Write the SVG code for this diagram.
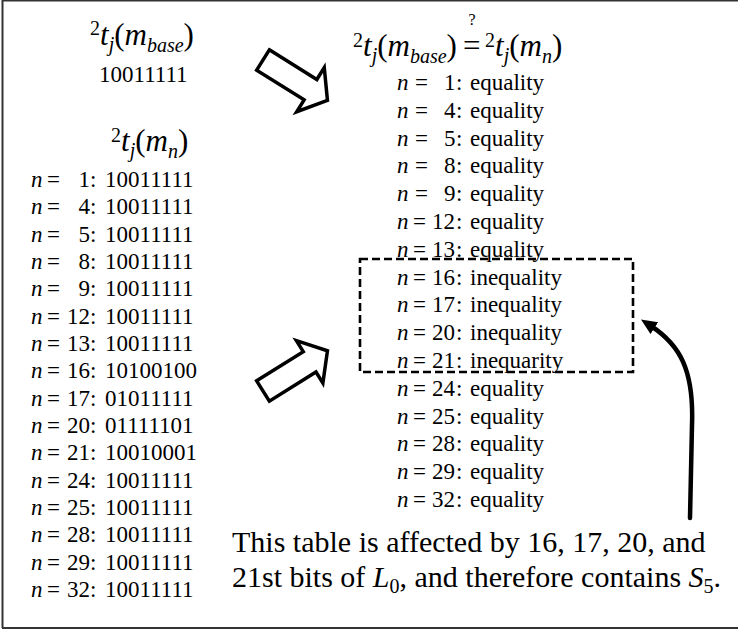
<svg xmlns="http://www.w3.org/2000/svg" width="738" height="631" viewBox="0 0 738 631">
<style>
text{font-family:"Liberation Serif","Times New Roman",serif;fill:#000}
.r{font-size:23px}
.h{font-size:31px}
.c{font-size:30px}
.i{font-style:italic}
.s{font-size:20px}
.blk{fill:#fff;stroke:#000;stroke-width:3.5;stroke-linejoin:miter}
</style>
<defs>
<marker id="ah" markerUnits="userSpaceOnUse" viewBox="0 0 16 14" refX="4" refY="7" markerWidth="16" markerHeight="14" orient="auto">
<path d="M0,0 L16,7 L0,14 Z" fill="#000"/>
</marker>
</defs>
<g id="frame" fill="none" stroke="#333" stroke-width="2">
<path d="M2.5,0.5 H738 M2.5,0 V628 M2,628 H738"/>
</g>

<g id="base-value">
<text class="h" y="45"><tspan x="90" y="35" class="s">2</tspan><tspan y="45" class="i">t</tspan><tspan y="51" class="i s">j</tspan><tspan y="45">(</tspan><tspan class="i">m</tspan><tspan y="52" class="i s">base</tspan><tspan y="45">)</tspan></text>
<text class="r" x="99" y="82">10011111</text>
</g>

<g id="left-table">
<text class="h" y="151"><tspan x="111" y="142" class="s">2</tspan><tspan y="151" class="i">t</tspan><tspan y="157" class="i s">j</tspan><tspan y="151">(</tspan><tspan class="i">m</tspan><tspan y="158" class="i s">n</tspan><tspan y="151">)</tspan></text>
<g class="r">
<text y="187"><tspan x="31" class="i">n</tspan><tspan x="47">=</tspan><tspan x="78.5">1</tspan><tspan x="90">:</tspan><tspan x="105">10011111</tspan></text>
<text y="214.3"><tspan x="31" class="i">n</tspan><tspan x="47">=</tspan><tspan x="78.5">4</tspan><tspan x="90">:</tspan><tspan x="105">10011111</tspan></text>
<text y="241.7"><tspan x="31" class="i">n</tspan><tspan x="47">=</tspan><tspan x="78.5">5</tspan><tspan x="90">:</tspan><tspan x="105">10011111</tspan></text>
<text y="269"><tspan x="31" class="i">n</tspan><tspan x="47">=</tspan><tspan x="78.5">8</tspan><tspan x="90">:</tspan><tspan x="105">10011111</tspan></text>
<text y="296.3"><tspan x="31" class="i">n</tspan><tspan x="47">=</tspan><tspan x="78.5">9</tspan><tspan x="90">:</tspan><tspan x="105">10011111</tspan></text>
<text y="323.7"><tspan x="31" class="i">n</tspan><tspan x="47">=</tspan><tspan x="67">12</tspan><tspan x="90">:</tspan><tspan x="105">10011111</tspan></text>
<text y="351"><tspan x="31" class="i">n</tspan><tspan x="47">=</tspan><tspan x="67">13</tspan><tspan x="90">:</tspan><tspan x="105">10011111</tspan></text>
<text y="378.3"><tspan x="31" class="i">n</tspan><tspan x="47">=</tspan><tspan x="67">16</tspan><tspan x="90">:</tspan><tspan x="105">10100100</tspan></text>
<text y="405.7"><tspan x="31" class="i">n</tspan><tspan x="47">=</tspan><tspan x="67">17</tspan><tspan x="90">:</tspan><tspan x="105">01011111</tspan></text>
<text y="433"><tspan x="31" class="i">n</tspan><tspan x="47">=</tspan><tspan x="67">20</tspan><tspan x="90">:</tspan><tspan x="105">01111101</tspan></text>
<text y="460.3"><tspan x="31" class="i">n</tspan><tspan x="47">=</tspan><tspan x="67">21</tspan><tspan x="90">:</tspan><tspan x="105">10010001</tspan></text>
<text y="487.7"><tspan x="31" class="i">n</tspan><tspan x="47">=</tspan><tspan x="67">24</tspan><tspan x="90">:</tspan><tspan x="105">10011111</tspan></text>
<text y="515"><tspan x="31" class="i">n</tspan><tspan x="47">=</tspan><tspan x="67">25</tspan><tspan x="90">:</tspan><tspan x="105">10011111</tspan></text>
<text y="542.3"><tspan x="31" class="i">n</tspan><tspan x="47">=</tspan><tspan x="67">28</tspan><tspan x="90">:</tspan><tspan x="105">10011111</tspan></text>
<text y="569.7"><tspan x="31" class="i">n</tspan><tspan x="47">=</tspan><tspan x="67">29</tspan><tspan x="90">:</tspan><tspan x="105">10011111</tspan></text>
<text y="597"><tspan x="31" class="i">n</tspan><tspan x="47">=</tspan><tspan x="67">32</tspan><tspan x="90">:</tspan><tspan x="105">10011111</tspan></text>
</g>
</g>

<g id="compare-table">
<text class="h" y="56"><tspan x="353" y="47" class="s">2</tspan><tspan y="56" class="i">t</tspan><tspan y="62" class="i s">j</tspan><tspan y="56">(</tspan><tspan class="i">m</tspan><tspan y="63" class="i s">base</tspan><tspan y="56">)</tspan><tspan x="463">=</tspan><tspan x="485" y="47" class="s">2</tspan><tspan y="56" class="i">t</tspan><tspan y="62" class="i s">j</tspan><tspan y="56">(</tspan><tspan class="i">m</tspan><tspan y="63" class="i s">n</tspan><tspan y="56">)</tspan></text>
<text x="472" y="25" font-size="16" text-anchor="middle">?</text>
<g class="r">
<text y="90"><tspan x="397" class="i">n</tspan><tspan x="415">=</tspan><tspan x="444">1</tspan><tspan x="456">:</tspan><tspan x="470">equality</tspan></text>
<text y="117.8"><tspan x="397" class="i">n</tspan><tspan x="415">=</tspan><tspan x="444">4</tspan><tspan x="456">:</tspan><tspan x="470">equality</tspan></text>
<text y="145.6"><tspan x="397" class="i">n</tspan><tspan x="415">=</tspan><tspan x="444">5</tspan><tspan x="456">:</tspan><tspan x="470">equality</tspan></text>
<text y="173.4"><tspan x="397" class="i">n</tspan><tspan x="415">=</tspan><tspan x="444">8</tspan><tspan x="456">:</tspan><tspan x="470">equality</tspan></text>
<text y="201.2"><tspan x="397" class="i">n</tspan><tspan x="415">=</tspan><tspan x="444">9</tspan><tspan x="456">:</tspan><tspan x="470">equality</tspan></text>
<text y="229"><tspan x="397" class="i">n</tspan><tspan x="413">=</tspan><tspan x="432">12</tspan><tspan x="456">:</tspan><tspan x="470">equality</tspan></text>
<text y="256.8"><tspan x="397" class="i">n</tspan><tspan x="413">=</tspan><tspan x="432">13</tspan><tspan x="456">:</tspan><tspan x="470">equality</tspan></text>
<text y="284.6"><tspan x="397" class="i">n</tspan><tspan x="413">=</tspan><tspan x="432">16</tspan><tspan x="456">:</tspan><tspan x="470">inequality</tspan></text>
<text y="312.4"><tspan x="397" class="i">n</tspan><tspan x="413">=</tspan><tspan x="432">17</tspan><tspan x="456">:</tspan><tspan x="470">inequality</tspan></text>
<text y="340.2"><tspan x="397" class="i">n</tspan><tspan x="413">=</tspan><tspan x="432">20</tspan><tspan x="456">:</tspan><tspan x="470">inequality</tspan></text>
<text y="368"><tspan x="397" class="i">n</tspan><tspan x="413">=</tspan><tspan x="432">21</tspan><tspan x="456">:</tspan><tspan x="470">inequarity</tspan></text>
<text y="395.8"><tspan x="397" class="i">n</tspan><tspan x="413">=</tspan><tspan x="432">24</tspan><tspan x="456">:</tspan><tspan x="470">equality</tspan></text>
<text y="423.6"><tspan x="397" class="i">n</tspan><tspan x="413">=</tspan><tspan x="432">25</tspan><tspan x="456">:</tspan><tspan x="470">equality</tspan></text>
<text y="451.4"><tspan x="397" class="i">n</tspan><tspan x="413">=</tspan><tspan x="432">28</tspan><tspan x="456">:</tspan><tspan x="470">equality</tspan></text>
<text y="479.2"><tspan x="397" class="i">n</tspan><tspan x="413">=</tspan><tspan x="432">29</tspan><tspan x="456">:</tspan><tspan x="470">equality</tspan></text>
<text y="507"><tspan x="397" class="i">n</tspan><tspan x="413">=</tspan><tspan x="432">32</tspan><tspan x="456">:</tspan><tspan x="470">equality</tspan></text>
</g>
<rect id="highlight" x="360" y="259" width="273" height="113" fill="none" stroke="#000" stroke-width="2.6" stroke-dasharray="8 4"/>
</g>

<g id="caption">
<text class="c" x="232" y="552">This table is affected by 16, 17, 20, and</text>
<text class="c" y="587"><tspan x="232">21st bits of </tspan><tspan class="i">L</tspan><tspan y="593" class="s">0</tspan><tspan y="587">, and therefore contains </tspan><tspan class="i">S</tspan><tspan y="593" class="s">5</tspan><tspan y="587">.</tspan></text>
</g>

<g id="connectors">
<polygon class="blk" transform="translate(263,60) rotate(32)" points="0,-12 56,-12 56,-26 76,0 56,26 56,12 0,12"/>
<polygon class="blk" transform="translate(263,391) rotate(-32)" points="0,-12 55,-12 55,-25 76,0 55,25 55,12 0,12"/>
<path d="M690,518 L692,425 C694,370 680,345 651,326" fill="none" stroke="#000" stroke-width="4.5" stroke-linecap="round" marker-end="url(#ah)"/>
</g>
</svg>
